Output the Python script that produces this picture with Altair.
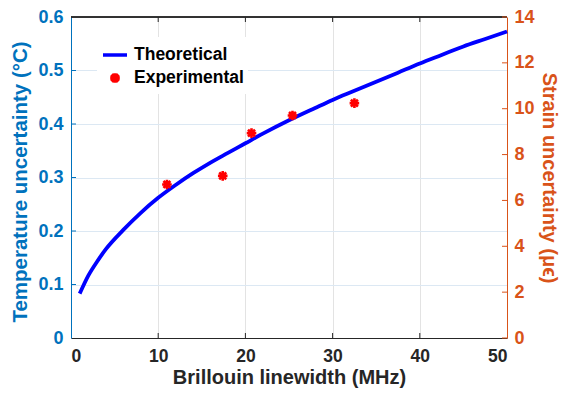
import altair as alt
import pandas as pd

# ---- data ----
theo_x = [1, 2, 3, 4, 6, 8, 10, 12, 14, 16, 18, 20, 22, 25, 28, 30, 32.5, 35, 37.5, 40, 42.5, 45, 47.5, 50]
theo_y = [0.083, 0.117, 0.143, 0.166, 0.202, 0.234, 0.262, 0.286, 0.308, 0.328, 0.346, 0.364,
          0.382, 0.407, 0.430, 0.445, 0.462, 0.479, 0.496, 0.513, 0.529, 0.545, 0.559, 0.573]
exp_x = [11.0, 17.4, 20.7, 25.4, 32.5]
exp_y = [0.287, 0.303, 0.383, 0.416, 0.439]
series = ["Theoretical", "Experimental"]
x_tick_values = [0, 10, 20, 30, 40, 50]
temp_tick_values = [0, 0.1, 0.2, 0.3, 0.4, 0.5, 0.6]
strain_tick_values = [0, 2, 4, 6, 8, 10, 12, 14]

W, H = 436, 321
FONT = "Liberation Sans"
BLUE_AX = "#0072BD"
ORANGE_AX = "#D95319"
DARK = "#262626"
ASTERISK = "M-0.4,0L0.4,0M0,-0.4L0,0.4M-0.29,-0.29L0.29,0.29M-0.29,0.29L0.29,-0.29"

theo_df = pd.DataFrame({"x": theo_x, "y": theo_y, "series": series[0]})
exp_df = pd.DataFrame({"x": exp_x, "y": exp_y, "series": series[1]})
xt_df = pd.DataFrame({"x": x_tick_values[1:-1]})
lt_df = pd.DataFrame({"y": temp_tick_values[1:-1]})
rt_df = pd.DataFrame({"s": strain_tick_values})

xscale = alt.Scale(domain=[0, 50], nice=False, zero=False)
yscale = alt.Scale(domain=[0, 0.6], nice=False)
sscale = alt.Scale(domain=[0, 14], nice=False)

xaxis = alt.Axis(values=x_tick_values, title="Brillouin linewidth (MHz)", grid=True,
                 gridColor="#e3e3e3", ticks=False, domainColor=DARK, labelColor=DARK,
                 titleColor=DARK, labelFont=FONT, titleFont=FONT, labelFontSize=17.5,
                 titleFontSize=20, labelFontWeight="bold", titleFontWeight="bold",
                 labelPadding=9, titlePadding=3, format="d")
yaxis = alt.Axis(values=temp_tick_values, title="Temperature uncertainty (°C)", grid=True,
                 gridColor="#dce8f3", ticks=False, domainColor=BLUE_AX, labelColor=BLUE_AX,
                 titleColor=BLUE_AX, labelFont=FONT, titleFont=FONT, labelFontSize=18,
                 titleFontSize=20.5, labelFontWeight="bold", titleFontWeight="bold",
                 labelPadding=8, titlePadding=7, titleY=H / 2 + 4,
                 labelExpr="datum.value == 0 ? '0' : format(datum.value, '.1f')")
saxis = alt.Axis(values=strain_tick_values, title="Strain uncertainty (μϵ)", orient="right",
                 grid=False, ticks=False, domainColor=ORANGE_AX, labelColor=ORANGE_AX,
                 titleColor=ORANGE_AX, labelFont=FONT, titleFont=FONT, labelFontSize=18,
                 titleFontSize=20, labelFontWeight="bold", titleFontWeight="bold",
                 labelPadding=7, titlePadding=4)

legend = alt.Legend(orient="none", legendX=26, legendY=20, title=None, labelFont=FONT,
                    labelFontSize=17.5, labelFontWeight="bold", labelColor="black",
                    symbolSize=576, symbolStrokeWidth=3.5, padding=4, fillColor="white",
                    rowPadding=0, labelOffset=5)
color_scale = alt.Scale(domain=series, range=["#0000FF", "#FF0000"])
shape_scale = alt.Scale(domain=series, range=["stroke", ASTERISK])

X = alt.X("x:Q", scale=xscale, axis=xaxis)
Y = alt.Y("y:Q", scale=yscale, axis=yaxis)

line = alt.Chart(theo_df).mark_line(strokeWidth=3.8, interpolate="monotone").encode(
    x=X, y=Y, color=alt.Color("series:N", scale=color_scale, legend=legend))

points = alt.Chart(exp_df).mark_point(filled=False, strokeWidth=2.6, size=576, opacity=1).encode(
    x=X, y=Y,
    color=alt.Color("series:N", scale=color_scale, legend=legend),
    shape=alt.Shape("series:N", scale=shape_scale, legend=legend))

xt_bottom = alt.Chart(xt_df).mark_rule(color=DARK, strokeWidth=1).encode(
    x=X, y=alt.value(H), y2=alt.value(H - 5))
xt_top = alt.Chart(xt_df).mark_rule(color=DARK, strokeWidth=1).encode(
    x=X, y=alt.value(0), y2=alt.value(5))
lt = alt.Chart(lt_df).mark_rule(color=BLUE_AX, strokeWidth=1).encode(
    y=Y, x=alt.value(0), x2=alt.value(5))
top_border = alt.Chart(xt_df).mark_rule(color=DARK, strokeWidth=1).encode(
    x=alt.value(0), x2=alt.value(W), y=alt.value(0))

left_group = alt.layer(line, points, xt_bottom, xt_top, lt, top_border)

right = alt.Chart(rt_df).mark_rule(color=ORANGE_AX, strokeWidth=1).encode(
    y=alt.Y("s:Q", scale=sscale, axis=saxis), x=alt.value(W), x2=alt.value(W - 5))

chart = alt.layer(left_group, right).resolve_scale(y="independent").properties(
    width=W, height=H,
    autosize=alt.AutoSizeParams(type="none"),
    padding={"left": 63, "top": 9, "right": 56, "bottom": 52},
    background="white",
).configure_view(stroke=None)

chart.save("out.html", embed_options={"renderer": "svg", "actions": False})
